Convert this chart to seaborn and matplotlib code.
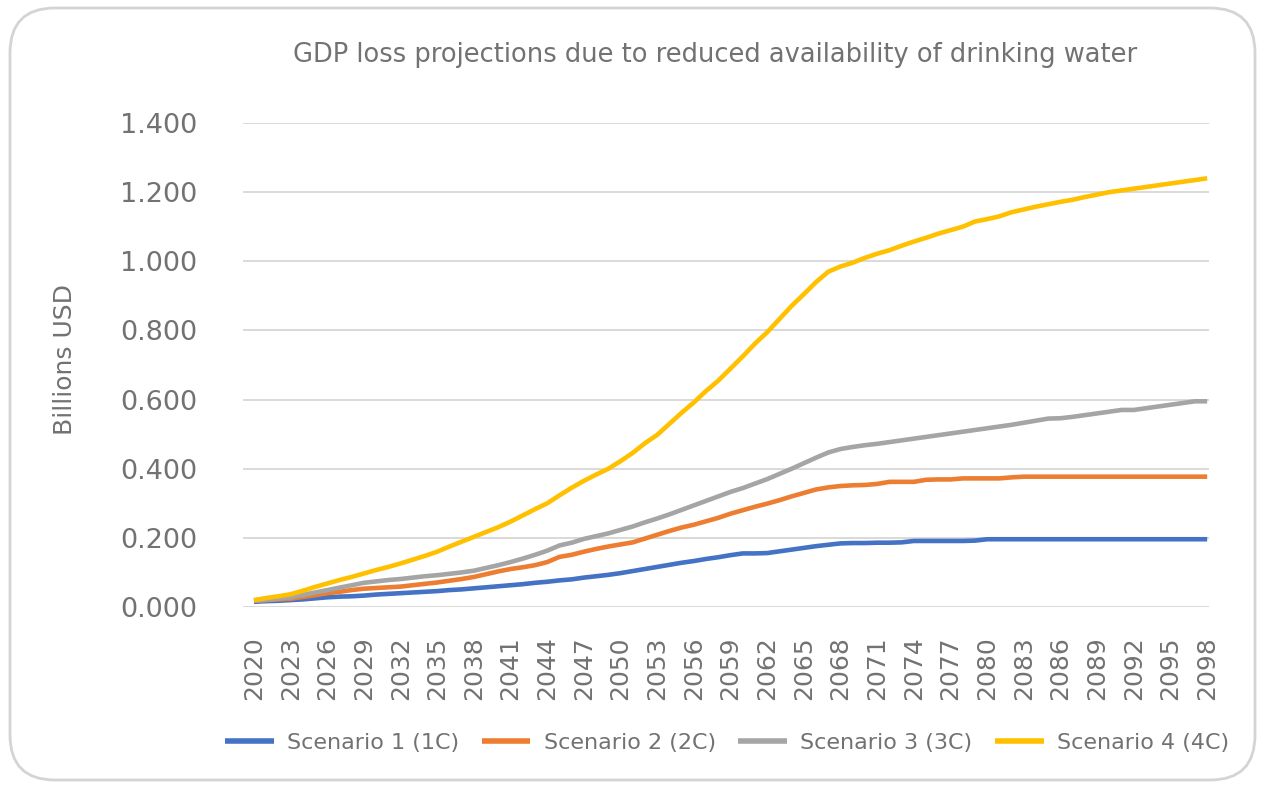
import pandas as pd
import numpy as np
import matplotlib
matplotlib.use("Agg")
import matplotlib.pyplot as plt
import seaborn as sns
from matplotlib.patches import FancyBboxPatch

# Years and projected GDP loss (billions USD)
years = list(range(2020, 2099))

scenario_1 = [
    0.015, 0.017, 0.018, 0.020, 0.022, 0.025, 0.028, 0.030, 0.031, 0.033,
    0.036, 0.038, 0.040, 0.042, 0.044, 0.046, 0.049, 0.051, 0.054, 0.057,
    0.060, 0.063, 0.066, 0.070, 0.073, 0.077, 0.080, 0.085, 0.089, 0.093,
    0.098, 0.104, 0.110, 0.116, 0.122, 0.128, 0.133, 0.139, 0.144, 0.150,
    0.155, 0.155, 0.156, 0.161, 0.166, 0.171, 0.176, 0.180, 0.184, 0.185,
    0.185, 0.186, 0.186, 0.187, 0.191, 0.191, 0.191, 0.191, 0.191, 0.192,
    0.196, 0.196, 0.196, 0.196, 0.196, 0.196, 0.196, 0.196, 0.196, 0.196,
    0.196, 0.196, 0.196, 0.196, 0.196, 0.196, 0.196, 0.196, 0.196,
]

scenario_2 = [
    0.018, 0.020, 0.022, 0.024, 0.029, 0.034, 0.040, 0.044, 0.049, 0.053,
    0.055, 0.057, 0.059, 0.063, 0.067, 0.071, 0.076, 0.081, 0.087, 0.095,
    0.103, 0.110, 0.115, 0.121, 0.130, 0.145, 0.151, 0.160, 0.168, 0.175,
    0.181, 0.187, 0.198, 0.209, 0.220, 0.230, 0.238, 0.248, 0.258, 0.270,
    0.280, 0.290, 0.299, 0.309, 0.320, 0.330, 0.340, 0.346, 0.350, 0.352,
    0.353, 0.356, 0.362, 0.362, 0.362, 0.368, 0.369, 0.369, 0.372, 0.372,
    0.372, 0.372, 0.375, 0.377, 0.377, 0.377, 0.377, 0.377, 0.377, 0.377,
    0.377, 0.377, 0.377, 0.377, 0.377, 0.377, 0.377, 0.377, 0.377,
]

scenario_3 = [
    0.018, 0.021, 0.024, 0.028, 0.035, 0.042, 0.049, 0.056, 0.063, 0.070,
    0.074, 0.078, 0.081, 0.085, 0.089, 0.092, 0.096, 0.100, 0.105, 0.113,
    0.121, 0.130, 0.140, 0.151, 0.163, 0.178, 0.186, 0.197, 0.205, 0.213,
    0.223, 0.233, 0.245, 0.256, 0.268, 0.281, 0.294, 0.307, 0.320, 0.333,
    0.344, 0.357, 0.370, 0.385, 0.400, 0.416, 0.432, 0.447, 0.457, 0.463,
    0.468, 0.472, 0.477, 0.482, 0.487, 0.492, 0.497, 0.502, 0.507, 0.512,
    0.517, 0.522, 0.527, 0.533, 0.539, 0.545, 0.546, 0.550, 0.555, 0.560,
    0.565, 0.570, 0.570, 0.575, 0.580, 0.585, 0.590, 0.595, 0.595,
]

scenario_4 = [
    0.020, 0.026, 0.031, 0.037, 0.047, 0.058, 0.068, 0.078, 0.087, 0.097,
    0.107, 0.116, 0.126, 0.137, 0.148, 0.160, 0.175, 0.189, 0.203, 0.217,
    0.231, 0.247, 0.265, 0.283, 0.300, 0.323, 0.345, 0.365, 0.383, 0.400,
    0.422, 0.446, 0.474, 0.498, 0.530, 0.562, 0.592, 0.625, 0.655, 0.690,
    0.725, 0.762, 0.795, 0.833, 0.871, 0.905, 0.940, 0.970, 0.985, 0.996,
    1.010, 1.022, 1.032, 1.045, 1.057, 1.068, 1.080, 1.090, 1.100, 1.115,
    1.122, 1.130, 1.142, 1.150, 1.158, 1.165, 1.172, 1.178, 1.186, 1.193,
    1.200, 1.205, 1.210, 1.215, 1.220, 1.225, 1.230, 1.235, 1.240,
]

labels = ["Scenario 1 (1C)", "Scenario 2 (2C)", "Scenario 3 (3C)", "Scenario 4 (4C)"]
colors = ["#4472C4", "#ED7D31", "#A5A5A5", "#FFC000"]
y_ticks = [0.0, 0.2, 0.4, 0.6, 0.8, 1.0, 1.2, 1.4]
x_ticks = list(range(2020, 2099, 3))

df = pd.concat([
    pd.DataFrame({"year": years, "value": vals, "scenario": lab})
    for lab, vals in zip(labels, [scenario_1, scenario_2, scenario_3, scenario_4])
])

sns.set_theme(style="white")
plt.rcParams["font.family"] = ["DejaVu Sans"]
text_color = "#727272"

fig = plt.figure(figsize=(12.62, 7.87), dpi=100)
ax = fig.add_axes([243 / 1262, 180 / 787, 966 / 1262, 484 / 787])

sns.lineplot(data=df, x="year", y="value", hue="scenario", palette=colors,
             linewidth=3.3, ax=ax, legend=True)

ax.set_xlim(2019.1, 2098.15)
ax.set_ylim(0, 1.4)
ax.set_yticks(y_ticks)
ax.set_yticklabels([f"{v:.3f}" for v in y_ticks], fontsize=19.5, color=text_color)
ax.set_xticks(x_ticks)
ax.set_xticklabels([str(x) for x in x_ticks], rotation=90, fontsize=18,
                   color=text_color, va="top")
ax.tick_params(axis="y", length=0, pad=33)
ax.tick_params(axis="x", length=0, pad=21)
ax.set_xlabel("")
ax.set_ylabel("")
ax.grid(axis="y", color="#D9D9D9", linewidth=1.4)
ax.grid(axis="x", visible=False)
for s in ax.spines.values():
    s.set_visible(False)
for line in ax.get_lines():
    line.set_solid_capstyle("butt")

handles, labs = ax.get_legend_handles_labels()
ax.legend_.remove()
leg = fig.legend(handles, labs, loc="center", bbox_to_anchor=(727 / 1262, 44 / 787),
                 ncol=4, frameon=False, fontsize=16, handlelength=2.2,
                 columnspacing=1.0, handletextpad=0.6)
for t in leg.get_texts():
    t.set_color(text_color)
for h in leg.legend_handles:
    h.set_linewidth(4)

fig.text(715 / 1262, 1 - 55 / 787,
         "GDP loss projections due to reduced availability of drinking water",
         ha="center", va="center", fontsize=18.5, color=text_color)
fig.text(65 / 1262, 1 - 360 / 787, "Billions USD", rotation=90,
         ha="center", va="center", fontsize=18, color=text_color)

border = FancyBboxPatch((0.10, 0.07), 12.45, 7.72,
                        boxstyle="round,pad=0,rounding_size=0.45",
                        transform=fig.dpi_scale_trans, facecolor="none",
                        edgecolor="#D4D4D4", linewidth=2)
fig.patches.append(border)

fig.savefig("out.png", dpi=100)
